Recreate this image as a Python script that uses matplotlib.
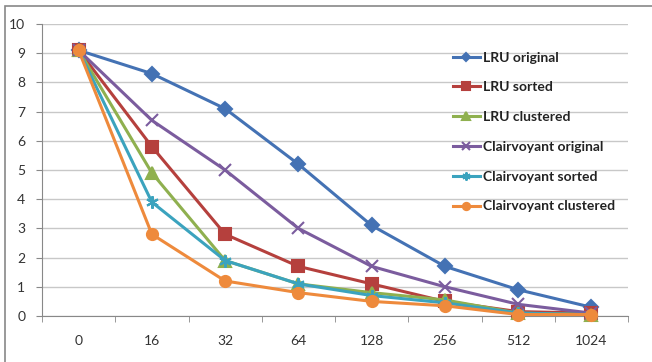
import matplotlib.pyplot as plt
import numpy as np
from matplotlib.patches import Rectangle

plt.rcParams['font.family'] = ['Lato', 'DejaVu Sans']

sizes = ['0', '16', '32', '64', '128', '256', '512', '1024']
lru_original = [9.1, 8.3, 7.1, 5.2, 3.1, 1.7, 0.9, 0.3]
lru_sorted = [9.1, 5.8, 2.8, 1.7, 1.1, 0.5, 0.15, 0.1]
lru_clustered = [9.1, 4.9, 1.9, 1.1, 0.8, 0.55, 0.1, 0.05]
cv_original = [9.1, 6.7, 5.0, 3.0, 1.7, 1.0, 0.4, 0.1]
cv_sorted = [9.1, 3.9, 1.9, 1.1, 0.7, 0.45, 0.1, 0.05]
cv_clustered = [9.1, 2.8, 1.2, 0.8, 0.5, 0.35, 0.05, 0.05]

series = [
    ('LRU original', lru_original, '#4472B4', 'D', 7),
    ('LRU sorted', lru_sorted, '#B5403D', 's', 8),
    ('LRU clustered', lru_clustered, '#8FB04F', '^', 8),
    ('Clairvoyant original', cv_original, '#7B5C9E', 'x', 9),
    ('Clairvoyant sorted', cv_sorted, '#3BA3BE', (6, 2, 0), 9),
    ('Clairvoyant clustered', cv_clustered, '#EE8A3C', 'o', 8),
]

fig = plt.figure(figsize=(6.52, 3.62), dpi=100)
ax = fig.add_axes([42 / 652, 1 - 316 / 362, (628 - 42) / 652, (316 - 24) / 362])

x = np.arange(len(sizes))
for name, vals, col, mk, ms in series:
    ax.plot(x, vals, color=col, lw=2.2, marker=mk, markersize=ms,
            markeredgecolor=col, markerfacecolor=col, markeredgewidth=1.5,
            label=name, clip_on=False, zorder=3)

ax.set_xlim(-0.5, len(sizes) - 0.5)
ax.set_ylim(0, 10)
ax.set_yticks(range(0, 11))
ax.set_xticks(x)
ax.set_xticklabels(sizes)
ax.set_xticks(np.arange(-0.5, len(sizes), 1), minor=True)
ax.tick_params(axis='x', which='major', length=0, pad=14, labelsize=10, colors='#333333')
ax.tick_params(axis='x', which='minor', length=4, color='#888888', direction='out')
ax.tick_params(axis='y', length=4, color='#888888', labelsize=10, pad=8)
ax.tick_params(axis='y', colors='#888888', labelcolor='#333333')
ax.grid(axis='y', color='#C8C8C8', lw=1)
ax.set_axisbelow(True)
for side in ['top', 'right']:
    ax.spines[side].set_visible(False)
for side in ['left', 'bottom']:
    ax.spines[side].set_color('#888888')

leg = ax.legend(loc='upper left', bbox_to_anchor=((447 - 42) / 586, (316 - 46) / 292),
                frameon=False, fontsize=10, labelspacing=1.28, handlelength=2.0,
                handletextpad=0.2, borderaxespad=0, markerscale=0.65)
for t in leg.get_texts():
    t.set_fontweight('bold')
    t.set_color('#222222')

# outer chart frame
fig.patches.append(Rectangle((5 / 652, -0.1), 1.2, 1 - 6 / 362 + 0.1,
                             transform=fig.transFigure, fill=False,
                             edgecolor='#888888', lw=1.2))

fig.savefig('out.png', dpi=100)
